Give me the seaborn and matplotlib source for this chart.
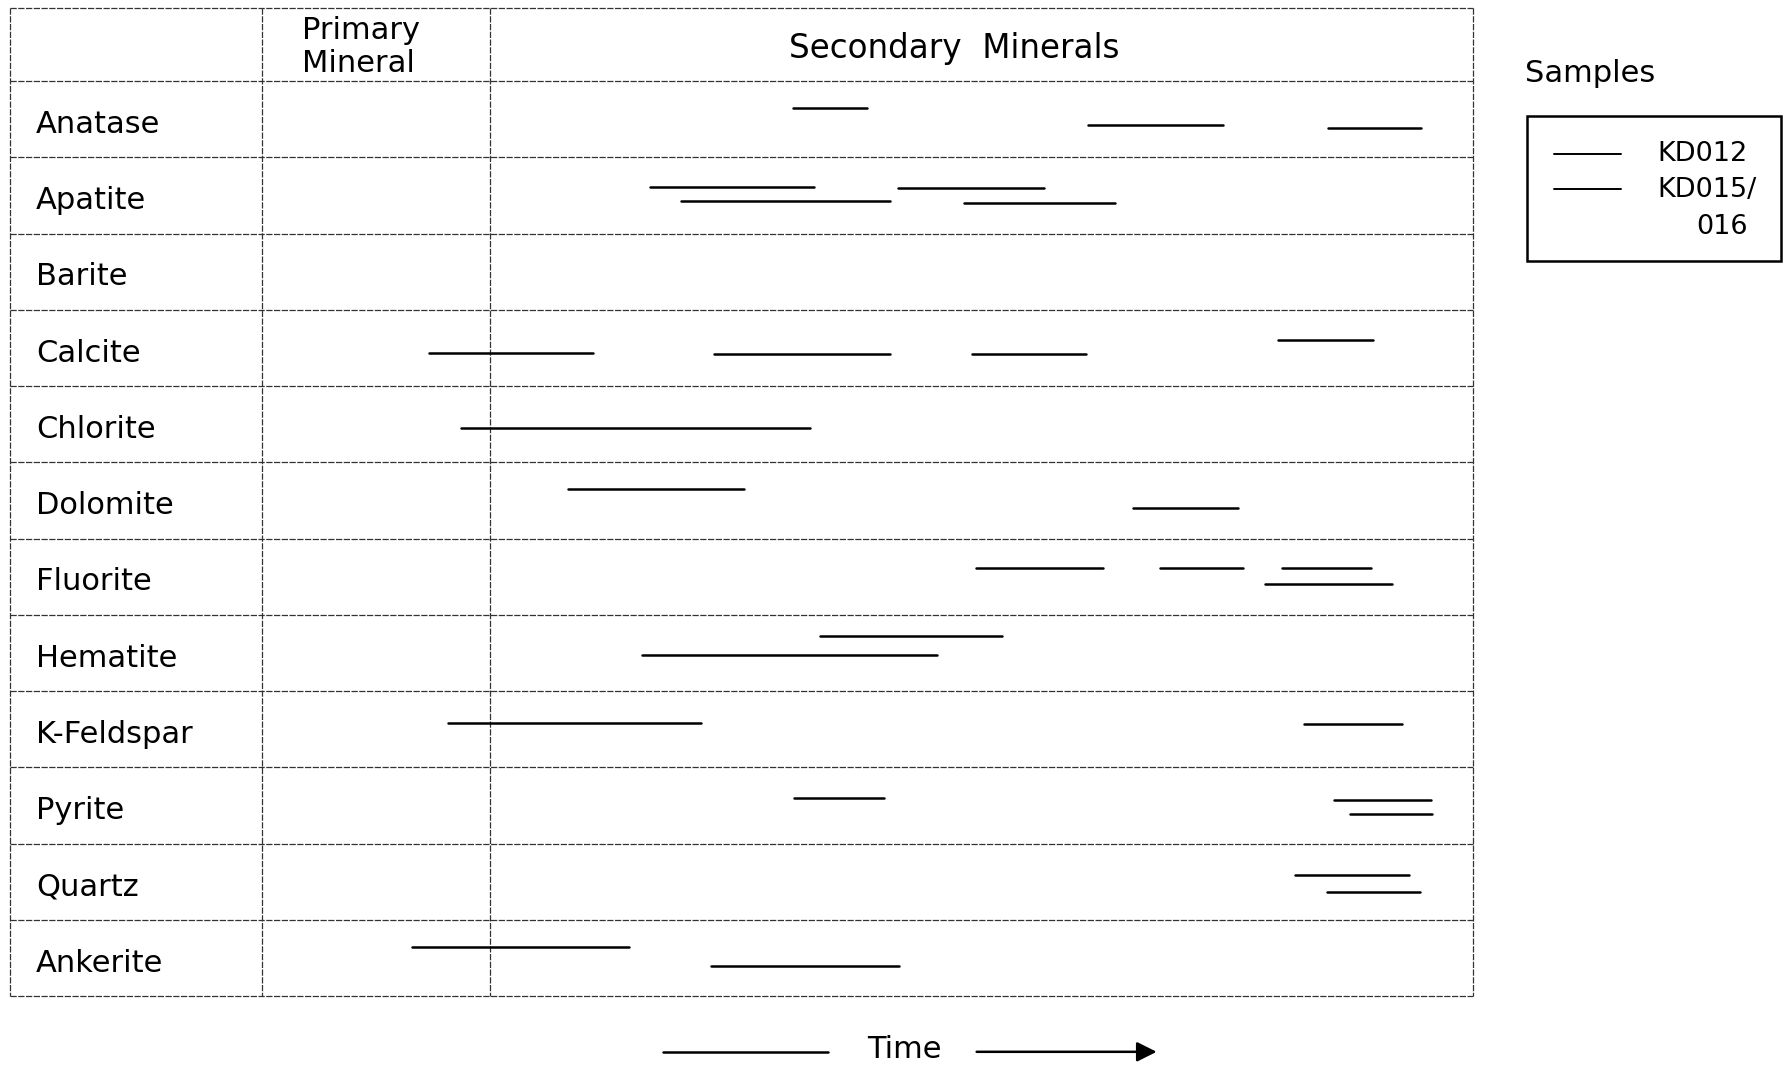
import numpy as np
import pandas as pd
import matplotlib
matplotlib.use("Agg")
import matplotlib.pyplot as plt
import seaborn as sns
from matplotlib.patches import Rectangle, FancyArrowPatch
from matplotlib.lines import Line2D

# ---------------- data ----------------
minerals = ["Anatase", "Apatite", "Barite", "Calcite", "Chlorite", "Dolomite",
            "Fluorite", "Hematite", "K-Feldspar", "Pyrite", "Quartz", "Ankerite"]

# time units: 0 = start of secondary stage, 100 = end of diagram, negatives = primary stage
seg_mineral = ["Anatase", "Anatase", "Anatase",
               "Apatite", "Apatite", "Apatite", "Apatite",
               "Calcite", "Calcite", "Calcite", "Calcite",
               "Chlorite",
               "Dolomite", "Dolomite",
               "Fluorite", "Fluorite", "Fluorite", "Fluorite",
               "Hematite", "Hematite",
               "K-Feldspar", "K-Feldspar",
               "Pyrite", "Pyrite", "Pyrite",
               "Quartz", "Quartz",
               "Ankerite", "Ankerite"]
seg_start = [30.8, 60.8, 85.2,
             16.3, 19.4, 41.5, 48.2,
             -6.2, 22.8, 49.0, 80.1,
             -3.0,
             7.9, 65.4,
             49.4, 68.1, 80.5, 78.8,
             33.5, 15.4,
             -4.3, 82.8,
             30.9, 85.8, 87.4,
             81.8, 85.1,
             -7.9, 22.5]
seg_end = [38.3, 74.5, 94.7,
           32.9, 40.7, 56.3, 63.5,
           10.5, 40.7, 60.6, 89.8,
           32.5,
           25.8, 76.1,
           62.3, 76.6, 89.6, 91.7,
           52.1, 45.4,
           21.4, 92.7,
           40.1, 95.7, 95.8,
           93.4, 94.6,
           14.1, 41.6]
# vertical lane within the row (fraction of row height, negative = upper)
seg_lane = [-0.14, 0.08, 0.11,
            -0.11, 0.08, -0.10, 0.10,
            0.07, 0.08, 0.08, -0.11,
            0.05,
            -0.15, 0.10,
            -0.12, -0.11, -0.11, 0.10,
            -0.22, 0.03,
            -0.08, -0.07,
            -0.10, -0.07, 0.11,
            -0.09, 0.13,
            -0.14, 0.10]
samples = ["KD012", "KD015/016"]

# ---------------- long-form table ----------------
rows = []
for k, (m, s, e, lane) in enumerate(zip(seg_mineral, seg_start, seg_end, seg_lane)):
    yv = minerals.index(m) + 0.5 + lane
    smp = samples[0] if lane < 0 else samples[1]
    rows.append(dict(seg=k, time=s, y=yv, sample=smp))
    rows.append(dict(seg=k, time=e, y=yv, sample=smp))
df = pd.DataFrame(rows)

# ---------------- figure ----------------
sns.set_style("white")
plt.rcParams["font.family"] = ["DejaVu Sans"]
plt.rcParams["text.color"] = "black"

fig = plt.figure(figsize=(17.84, 10.70), dpi=100)
ax = fig.add_axes([0.00574, 0.0691, 0.8202, 0.9234])

x_left, x_prim, x_sec, x_right = -48.8, -23.2, 0.0, 100.0
y_top = -0.957
n = len(minerals)

sns.lineplot(data=df, x="time", y="y", units="seg", estimator=None,
             hue="sample", palette={samples[0]: "black", samples[1]: "black"},
             legend=False, sort=False, linewidth=1.8, ax=ax)

ax.set_xlim(x_left, x_right)
ax.set_ylim(n, y_top)
ax.set_axis_off()

grid_kw = dict(color="0.2", lw=0.9, linestyle=(0, (5, 1.2)), clip_on=False, zorder=1)
for yb in [y_top] + list(range(0, n + 1)):
    ax.plot([x_left, x_right], [yb, yb], **grid_kw)
for xb in [x_left, x_prim, x_sec, x_right]:
    ax.plot([xb, xb], [y_top, n], **grid_kw)

for i, m in enumerate(minerals):
    ax.text(-46.2, i + 0.57, m, ha="left", va="center", fontsize=22, color="black")

ax.text(-19.1, -0.45, "Primary\nMineral", ha="left", va="center",
        fontsize=22, linespacing=1.16, color="black")
ax.text(47.2, -0.43, "Secondary  Minerals", ha="center", va="center",
        fontsize=23.5, color="black")

# ---------------- legend (manual) ----------------
fig.text(0.8546, 0.9309, "Samples", ha="left", va="center", fontsize=22, color="black")
fig.add_artist(Rectangle((0.8559, 0.7564), 0.1422, 0.1351, transform=fig.transFigure,
                         fill=False, lw=1.8, edgecolor="black"))
for yy in [0.8564, 0.8234]:
    fig.add_artist(Line2D([0.8712, 0.9088], [yy, yy], transform=fig.transFigure,
                          color="black", lw=1.4))
fig.text(0.9292, 0.8564, "KD012", ha="left", va="center", fontsize=19.5, color="black")
fig.text(0.9292, 0.8223, "KD015/", ha="left", va="center", fontsize=19.5, color="black")
fig.text(0.9796, 0.7883, "016", ha="right", va="center", fontsize=19.5, color="black")

# ---------------- time arrow ----------------
fig.add_artist(Line2D([0.3718, 0.4643], [0.017, 0.017], transform=fig.transFigure,
                      color="black", lw=1.8))
fig.text(0.507, 0.019, "Time", ha="center", va="center", fontsize=22, color="black")
fig.add_artist(FancyArrowPatch((0.5459, 0.017), (0.6499, 0.017), transform=fig.transFigure,
                               arrowstyle="-|>", mutation_scale=30, lw=1.8, color="black"))

fig.savefig("out.png", dpi=100)
